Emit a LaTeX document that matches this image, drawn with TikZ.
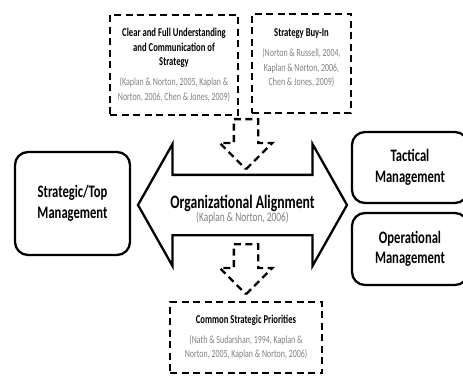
\documentclass[tikz,border=0pt]{standalone}
\usepackage{fontspec}
\setmainfont{Carlito}[FakeStretch=0.72]
\usetikzlibrary{shapes.arrows}

\definecolor{citegray}{gray}{0.5}
\newcommand{\source}[1]{{\normalfont\fontsize{11}{14.5}\selectfont\color{citegray}#1}}

\tikzset{
  mgmtbox/.style={draw, line width=2.3pt, rounded corners=13pt, align=center, inner sep=0pt,
    font=\bfseries\fontsize{17.5}{20.5}\selectfont},
  themebox/.style={draw, line width=2.6pt, dash pattern=on 7pt off 4.5pt, align=center, inner sep=0pt,
    font=\bfseries\fontsize{12}{14.5}\selectfont},
  flowarrow/.style={single arrow, draw, line width=2.3pt, dash pattern=on 7pt off 4.5pt,
    shape border rotate=270, minimum height=50pt, minimum width=50pt,
    single arrow head extend=14pt, inner sep=11pt}
}

\begin{document}
\begin{tikzpicture}[x=1pt, y=-1pt]
\useasboundingbox (0,0) rectangle (463,377);
\clip (0,0) rectangle (463,377);

% the two inputs on top
\node[themebox, minimum width=128pt, minimum height=100pt] (understanding) at (174,65)
  {Clear and Full Understanding\\and Communication of\\Strategy\\[5.5pt]
   \source{(Kaplan \& Norton, 2005, Kaplan \&}\\\source{Norton, 2006, Chen \& Jones, 2009)}};
\node[themebox, minimum width=99pt, minimum height=99pt] (buyin) at (301.5,63.5)
  {Strategy Buy-In\\[5.5pt]\source{(Norton \& Russell, 2004,}\\\source{Kaplan \& Norton, 2006,}\\\source{Chen \& Jones, 2009)}\\[-2pt]\mbox{}};

% alignment between the levels
\node[double arrow, draw, line width=2.3pt, minimum height=209pt, minimum width=120pt,
  double arrow head extend=31pt, double arrow tip angle=121, inner xsep=0pt, inner ysep=29pt] (alignarrow) at (242.5,205) {};
\node[align=center, inner sep=0pt] (alignment) at (242.5,209.5)
  {\bfseries\fontsize{19}{21.5}\selectfont Organizational Alignment\\\source{\fontsize{13}{21.5}\selectfont(Kaplan \& Norton, 2006)}};

\node[mgmtbox, minimum width=115pt, minimum height=103pt] (strategic) at (72.5,203.5) {Strategic/Top\\Management};
\node[mgmtbox, minimum width=116pt, minimum height=71pt] (tactical) at (410,167.5) {Tactical\\Management};
\node[mgmtbox, minimum width=116pt, minimum height=72pt] (operational) at (410,249) {Operational\\Management};

% output below
\node[themebox, minimum width=152pt, minimum height=71pt] (priorities) at (246,337.5)
  {Common Strategic Priorities\\[5pt]\source{(Nath \& Sudarshan, 1994, Kaplan \&}\\\source{Norton, 2005, Kaplan \& Norton, 2006)}};

\node[flowarrow, anchor=tail] (intoalign) at (246,118) {};
\node[flowarrow, anchor=tail] (fromalign) at (246,243) {};
\end{tikzpicture}
\end{document}
